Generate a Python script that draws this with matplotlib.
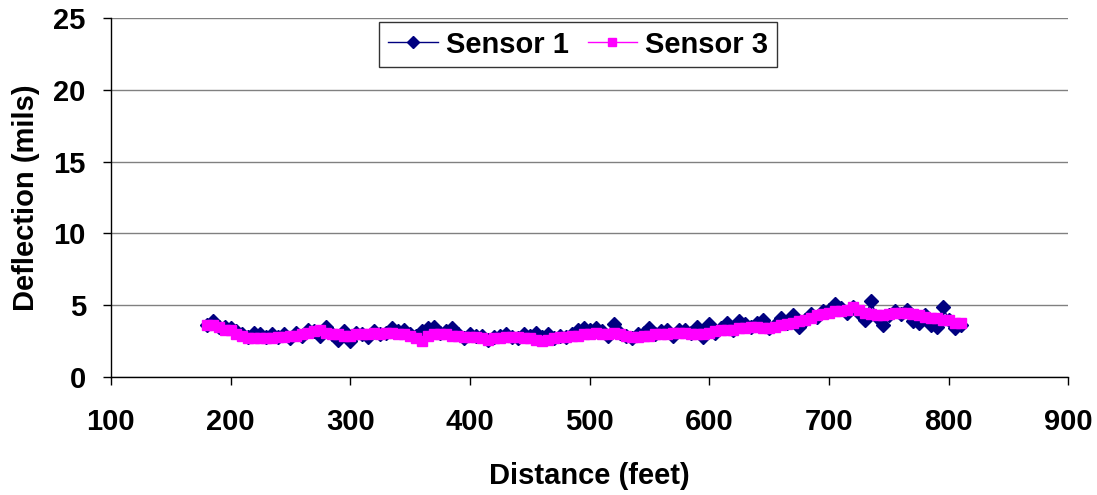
import matplotlib
matplotlib.use("Agg")
import matplotlib.pyplot as plt

distance = list(range(180, 811, 5))

sensor1 = [3.6, 3.9, 3.5, 3.5, 3.4, 3.2, 3.0, 2.8, 3.1, 3.0, 2.8, 3.0, 2.8, 3.0, 2.7, 3.1,
           2.9, 3.3, 3.2, 2.9, 3.5, 3.0, 2.6, 3.2, 2.5, 3.1, 3.0, 2.8, 3.2, 3.0, 3.1, 3.4,
           3.2, 3.3, 3.0, 2.9, 3.2, 3.4, 3.5, 3.1, 3.2, 3.4, 3.0, 2.7, 3.0, 2.9, 2.9, 2.6,
           2.8, 2.9, 3.0, 2.8, 2.7, 3.0, 2.9, 3.1, 2.8, 3.0, 2.7, 2.9, 2.8, 3.0, 3.3, 3.4,
           3.3, 3.4, 3.2, 2.9, 3.7, 3.1, 2.9, 2.7, 3.0, 3.1, 3.4, 3.0, 3.2, 3.3, 2.9, 3.3,
           3.3, 3.1, 3.5, 2.8, 3.7, 3.1, 3.4, 3.8, 3.3, 3.9, 3.7, 3.5, 3.8, 4.0, 3.4, 3.6,
           4.1, 3.8, 4.3, 3.5, 4.0, 4.4, 4.2, 4.6, 4.7, 5.1, 4.8, 4.5, 4.9, 4.5, 4.0, 5.3,
           4.2, 3.6, 4.3, 4.6, 4.4, 4.7, 3.9, 3.8, 4.3, 3.6, 3.5, 4.9, 4.0, 3.4, 3.6]

sensor3 = [3.6, 3.6, 3.5, 3.3, 3.3, 3.0, 2.9, 2.7, 2.7, 2.7, 2.7, 2.7, 2.8, 2.8, 2.9, 2.9,
           3.0, 3.1, 3.2, 3.3, 3.1, 3.0, 3.0, 2.9, 2.9, 3.0, 3.0, 3.0, 3.1, 3.0, 3.1, 3.1,
           3.0, 3.0, 2.9, 2.7, 2.5, 2.9, 3.0, 3.0, 3.0, 2.9, 2.9, 2.8, 2.8, 2.8, 2.7, 2.6,
           2.7, 2.7, 2.8, 2.8, 2.8, 2.7, 2.7, 2.6, 2.5, 2.6, 2.7, 2.8, 2.8, 2.9, 2.9, 3.0,
           3.0, 3.1, 3.0, 3.0, 3.1, 3.0, 2.9, 2.8, 2.8, 2.9, 2.9, 3.0, 3.0, 3.0, 3.1, 3.1,
           3.1, 3.0, 3.0, 3.0, 3.1, 3.2, 3.3, 3.3, 3.3, 3.4, 3.4, 3.5, 3.5, 3.4, 3.4, 3.5,
           3.6, 3.7, 3.8, 3.9, 4.0, 4.1, 4.3, 4.4, 4.5, 4.6, 4.6, 4.7, 4.9, 4.7, 4.5, 4.4,
           4.3, 4.3, 4.4, 4.5, 4.5, 4.5, 4.4, 4.3, 4.2, 4.1, 4.1, 4.0, 4.0, 3.8, 3.8]

x_ticks = [100, 200, 300, 400, 500, 600, 700, 800, 900]
y_ticks = [0, 5, 10, 15, 20, 25]

plt.rcParams['font.family'] = ['Liberation Sans', 'DejaVu Sans']

fig = plt.figure(figsize=(10.97, 4.95), dpi=100)
ax = fig.add_axes([0.101, 0.238, 0.873, 0.726])

ax.plot(distance, sensor1, color='#000080', marker='D', markersize=7.5, linewidth=1,
        label='Sensor 1', zorder=3)
ax.plot(distance, sensor3, color='#FF00FF', marker='s', markersize=7.5, linewidth=1,
        label='Sensor 3', zorder=4)

ax.set_xlim(100, 900)
ax.set_ylim(0, 25)
ax.set_xticks(x_ticks)
ax.set_yticks(y_ticks)
ax.grid(axis='y', color='#808080', linewidth=1)
ax.set_axisbelow(True)
for s in ['top', 'right']:
    ax.spines[s].set_visible(False)
for s in ['left', 'bottom']:
    ax.spines[s].set_color('black')
    ax.spines[s].set_linewidth(1)
ax.tick_params(axis='both', direction='out', length=6, width=1, labelsize=21)
ax.tick_params(axis='x', pad=16)
ax.tick_params(axis='y', pad=12)
for lab in ax.get_xticklabels() + ax.get_yticklabels():
    lab.set_fontweight('bold')

ax.set_xlabel('Distance (feet)', fontsize=21, fontweight='bold', labelpad=19)
ax.set_ylabel('Deflection (mils)', fontsize=21, fontweight='bold', labelpad=10)

leg = ax.legend(loc='upper center', bbox_to_anchor=(0.488, 1.0), ncol=2, frameon=True,
                fancybox=False, edgecolor='black', prop={'size': 21, 'weight': 'bold'},
                handlelength=1.7, handletextpad=0.28, columnspacing=0.65, borderpad=0.3,
                borderaxespad=0.14, markerscale=0.8)
leg.get_frame().set_linewidth(1)

fig.savefig('out.png', dpi=100)
